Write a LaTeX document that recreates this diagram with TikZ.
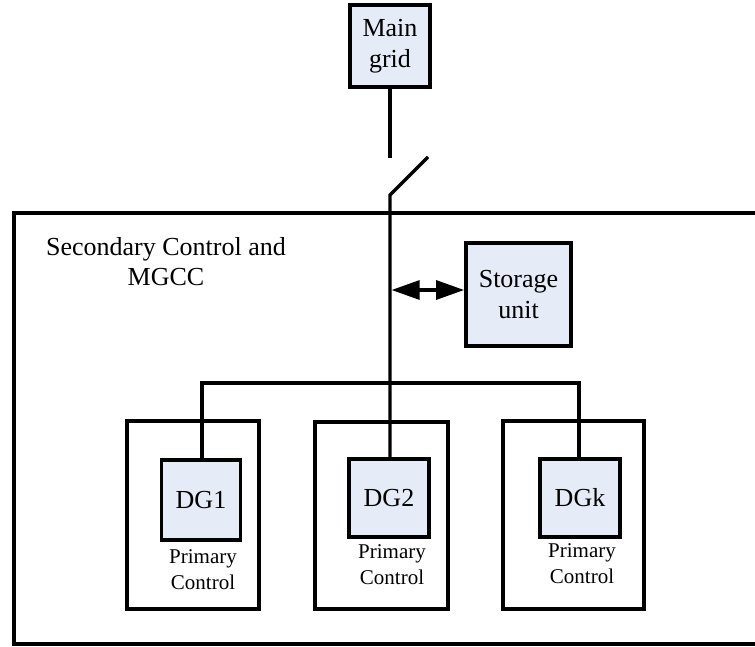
\documentclass[tikz,border=0pt]{standalone}
\usepackage{fontspec}
\setmainfont{Liberation Serif}
\usetikzlibrary{arrows.meta}
\definecolor{boxfill}{RGB}{230,236,247}
\begin{document}
\begin{tikzpicture}[x=1pt,y=-1pt,
  wire/.style={line width=3.2pt},
  unitbox/.style={draw,line width=3.8pt,fill=boxfill,inner sep=0pt,align=center,
    font=\fontsize{26}{31}\selectfont},
  frame/.style={draw,line width=3.1pt},
  lbl/.style={align=center,inner sep=0pt},
]
\clip (0,0) rectangle (755,646);
\fill[white] (0,0) rectangle (755,646);

% microgrid boundary (open to the right)
\draw[frame] (14,213) rectangle (780,644);
\node[lbl,font=\fontsize{26}{30}\selectfont] (sec) at (166,262) {Secondary Control and\\MGCC};

% primary control enclosures
\draw[frame] (127,421) rectangle (259,609);
\draw[frame] (315,422) rectangle (448,609);
\draw[frame] (503,421) rectangle (644,609);

% units
\node[unitbox,minimum width=80pt,minimum height=82pt] (grid) at (390,46) {Main\\grid};
\node[unitbox,minimum width=105pt,minimum height=103pt] (stor) at (518.5,294.5) {Storage\\unit};
\node[unitbox,minimum width=79pt,minimum height=80pt] (dg1) at (201,500) {DG1};
\node[unitbox,minimum width=80pt,minimum height=78pt] (dg2) at (389,498) {DG2};
\node[unitbox,minimum width=80pt,minimum height=78pt] (dgk) at (580,498) {DGk};

\node[lbl,font=\fontsize{21}{26}\selectfont] (pc1) at (203,570) {Primary\\Control};
\node[lbl,font=\fontsize{21}{26}\selectfont] (pc2) at (392,565) {Primary\\Control};
\node[lbl,font=\fontsize{21}{26}\selectfont] (pck) at (582,564) {Primary\\Control};

% switch and main feeder
\coordinate (swtop) at (390,158);
\coordinate (blade) at (428,157);
\coordinate (pivot) at (390,195);
\coordinate (tap) at (391.6,290);
\coordinate (busL) at (202,383);
\coordinate (busR) at (579,383);
\draw[wire] (grid.south -| swtop) -- (swtop);
\draw[wire] (blade) -- (pivot) -- (pivot |- dg2.north);
\draw[wire] (dg1.north -| busL) -- (busL) -- (busR) -- (dgk.north -| busR);

% storage exchange
\draw[line width=3.2pt,{Triangle[length=28pt,width=19pt]}-{Triangle[length=28pt,width=19pt]}]
  (tap) -- (tap -| stor.west);
\end{tikzpicture}
\end{document}
